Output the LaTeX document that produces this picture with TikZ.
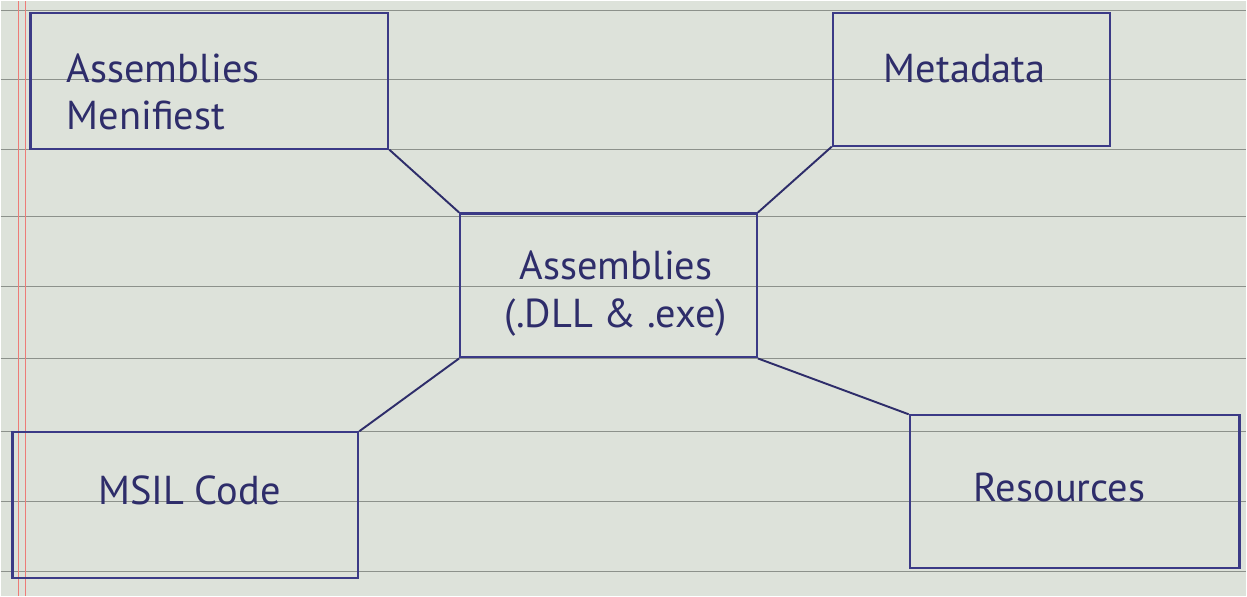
\documentclass[tikz,border=0pt]{standalone}
\usepackage{fontspec}
\setmainfont{PT Sans}
\usepackage{xcolor}
\definecolor{paper}{HTML}{DDE2DA}
\definecolor{rule}{HTML}{8C918B}
\definecolor{ink}{HTML}{3B3A86}
\definecolor{inktext}{HTML}{2E2D6A}

\begin{document}
\begin{tikzpicture}[every node/.style={font=\fontsize{23}{27}\selectfont, text=inktext}]
    \tikzset{box/.style={draw=ink, line width=1.2pt, inner sep=0pt},
             link/.style={draw=inktext, line width=1.1pt}}

    % paper
    \fill[paper] (0,0) rectangle (24.94,11.92);
    \foreach \y in {0.5,1.9,3.3,4.75,6.2,7.6,8.95,10.35,11.72} {
        \draw[rule, line width=0.6pt] (0,\y) -- (24.94,\y);
    }
    \draw[red!45!paper, line width=0.8pt] (0.36,0) -- (0.36,11.92);
    \draw[red!45!paper, line width=0.8pt] (0.5,0) -- (0.5,11.92);

    \node[box, minimum width=7.16cm, minimum height=2.72cm] (man) at (4.18,10.32) {};
    \node[box, minimum width=5.54cm, minimum height=2.66cm] (meta) at (19.43,10.35) {};
    \node[box, minimum width=5.94cm, minimum height=2.88cm] (asm) at (12.17,6.22) {};
    \node[box, minimum width=6.92cm, minimum height=2.92cm] (msil) at (3.70,1.82) {};
    \node[box, minimum width=6.60cm, minimum height=3.06cm] (res) at (21.50,2.09) {};

    \node[anchor=west, align=left] (manlbl) at (1.2,10.1) {Assemblies\\Menifiest};
    \node (metalbl) at (19.3,10.56) {Metadata};
    \node[align=center] (asmlbl) at (12.32,6.06) {Assemblies\\(.DLL \& .exe)};
    \node (msillbl) at (3.78,2.12) {MSIL Code};
    \node (reslbl) at (21.2,2.18) {Resources};

    \draw[link] (man.south east) -- (asm.north west);
    \draw[link] (meta.south west) -- (asm.north east);
    \draw[link] (asm.south west) -- (msil.north east);
    \draw[link] (asm.south east) -- (res.north west);
\end{tikzpicture}
\end{document}
